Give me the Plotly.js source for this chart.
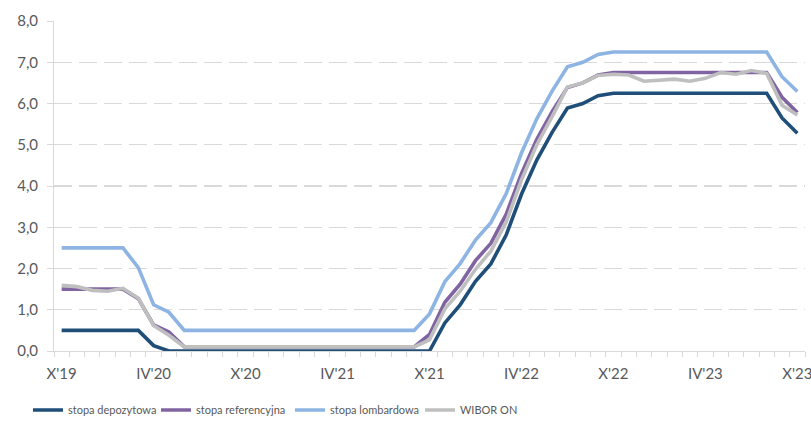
<!DOCTYPE html>
<html>
<head>
<meta charset="utf-8">
<script src="https://cdn.plot.ly/plotly-3.0.1.min.js"></script>
<style>
  html, body { margin: 0; padding: 0; background: #ffffff; }
  #chart { width: 811px; height: 421px; }
</style>
</head>
<body>
<div id="chart"></div>
<script>
// Monthly averages, October 2019 - October 2023 (%)
const months = [
  "X'19", "XI'19", "XII'19",
  "I'20", "II'20", "III'20", "IV'20", "V'20", "VI'20", "VII'20", "VIII'20", "IX'20", "X'20", "XI'20", "XII'20",
  "I'21", "II'21", "III'21", "IV'21", "V'21", "VI'21", "VII'21", "VIII'21", "IX'21", "X'21", "XI'21", "XII'21",
  "I'22", "II'22", "III'22", "IV'22", "V'22", "VI'22", "VII'22", "VIII'22", "IX'22", "X'22", "XI'22", "XII'22",
  "I'23", "II'23", "III'23", "IV'23", "V'23", "VI'23", "VII'23", "VIII'23", "IX'23", "X'23"
];

const tickLabels = ["X'19", "IV'20", "X'20", "IV'21", "X'21", "IV'22", "X'22", "IV'23", "X'23"];

const seriesNames = ['stopa depozytowa', 'stopa referencyjna', 'stopa lombardowa', 'WIBOR ON'];

const stopaDepozytowa = [
  0.50, 0.50, 0.50,
  0.50, 0.50, 0.50, 0.13, 0.00, 0.00, 0.00, 0.00, 0.00, 0.00, 0.00, 0.00,
  0.00, 0.00, 0.00, 0.00, 0.00, 0.00, 0.00, 0.00, 0.00, 0.00, 0.68, 1.12,
  1.69, 2.11, 2.81, 3.80, 4.63, 5.30, 5.89, 6.00, 6.19, 6.25, 6.25, 6.25,
  6.25, 6.25, 6.25, 6.25, 6.25, 6.25, 6.25, 6.25, 5.65, 5.28
];

const stopaReferencyjna = [
  1.50, 1.50, 1.50,
  1.50, 1.50, 1.27, 0.63, 0.46, 0.10, 0.10, 0.10, 0.10, 0.10, 0.10, 0.10,
  0.10, 0.10, 0.10, 0.10, 0.10, 0.10, 0.10, 0.10, 0.10, 0.40, 1.18, 1.62,
  2.19, 2.61, 3.31, 4.30, 5.13, 5.80, 6.39, 6.50, 6.69, 6.75, 6.75, 6.75,
  6.75, 6.75, 6.75, 6.75, 6.75, 6.75, 6.75, 6.75, 6.15, 5.78
];

const stopaLombardowa = [
  2.50, 2.50, 2.50,
  2.50, 2.50, 2.02, 1.12, 0.94, 0.50, 0.50, 0.50, 0.50, 0.50, 0.50, 0.50,
  0.50, 0.50, 0.50, 0.50, 0.50, 0.50, 0.50, 0.50, 0.50, 0.90, 1.68, 2.12,
  2.69, 3.11, 3.81, 4.80, 5.63, 6.30, 6.89, 7.00, 7.19, 7.25, 7.25, 7.25,
  7.25, 7.25, 7.25, 7.25, 7.25, 7.25, 7.25, 7.25, 6.65, 6.29
];

const wiborOn = [
  1.59, 1.56, 1.47,
  1.45, 1.52, 1.28, 0.62, 0.38, 0.10, 0.10, 0.10, 0.10, 0.10, 0.10, 0.10,
  0.10, 0.10, 0.10, 0.10, 0.10, 0.10, 0.10, 0.10, 0.10, 0.27, 1.02, 1.45,
  1.98, 2.42, 3.12, 4.15, 5.00, 5.68, 6.40, 6.50, 6.68, 6.71, 6.69, 6.54,
  6.57, 6.59, 6.54, 6.61, 6.75, 6.71, 6.80, 6.73, 5.96, 5.72
];

const FONT = "Lato, 'DejaVu Sans Condensed', sans-serif";
const TEXT = '#595959';
const GRID = '#d9d9d9';

// Legend layout: width reserved for each entry's label (px) and the
// largest font size at which every label still fits its slot.
const legendSlots = [83, 89, 85, 60];
const legendFontSize = (function () {
  const ctx = document.createElement('canvas').getContext('2d');
  ctx.font = '100px Lato';
  let size = 13;
  seriesNames.forEach((name, i) => {
    const w = ctx.measureText(name).width / 100;
    size = Math.min(size, (legendSlots[i] + 6) / w);
  });
  return Math.floor(size * 10) / 10;
})();

// evenly spaced month slots, like a category axis
const xPos = months.map((m, i) => i);
const tickPos = tickLabels.map(l => months.indexOf(l));

function series(i, values, color) {
  return {
    type: 'scatter',
    mode: 'lines',
    name: seriesNames[i],
    x: xPos,
    y: values,
    line: { color: color, width: 3.6, shape: 'linear' },
    legendwidth: legendSlots[i],
    hoverinfo: 'skip'
  };
}

const data = [
  series(0, stopaDepozytowa, '#1f4e79'),
  series(1, stopaReferencyjna, '#8064a2'),
  series(2, stopaLombardowa, '#8db4e2'),
  series(3, wiborOn, '#bfbfbf')
];

const layout = {
  width: 811,
  height: 421,
  margin: { l: 54, r: 6, t: 21, b: 70, autoexpand: false },
  paper_bgcolor: '#ffffff',
  plot_bgcolor: '#ffffff',
  separators: ', ',
  showlegend: true,
  font: { family: FONT, color: TEXT, size: 15 },
  xaxis: {
    range: [-0.5, months.length - 0.5],
    tickmode: 'array',
    tickvals: tickPos,
    ticktext: tickLabels,
    ticks: 'outside',
    ticklen: 0,
    tickcolor: 'rgba(0,0,0,0)',
    ticklabelstandoff: 9,
    ticklabeloverflow: 'allow',
    tickfont: { family: FONT, color: TEXT, size: 15 },
    showgrid: false,
    zeroline: false,
    showline: true,
    linecolor: GRID,
    linewidth: 1,
    automargin: false,
    minor: {
      tickmode: 'linear',
      tick0: -0.5,
      dtick: 1,
      ticks: 'outside',
      ticklen: 5,
      tickwidth: 1,
      tickcolor: GRID,
      showgrid: false
    },
    fixedrange: true
  },
  yaxis: {
    range: [0, 8],
    tickmode: 'linear',
    tick0: 0,
    dtick: 1,
    tickformat: '.1f',
    tickfont: { family: FONT, color: TEXT, size: 15 },
    ticks: 'outside',
    ticklen: 6,
    tickcolor: GRID,
    ticklabelstandoff: 6,
    showgrid: true,
    gridcolor: GRID,
    gridwidth: 1.3,
    griddash: '18px,7px',
    zeroline: false,
    showline: true,
    linecolor: GRID,
    linewidth: 1,
    automargin: false,
    fixedrange: true
  },
  legend: {
    orientation: 'h',
    xref: 'container',
    x: 0.0345,
    xanchor: 'left',
    yref: 'container',
    y: 0.026,
    yanchor: 'middle',
    font: { family: FONT, color: TEXT, size: legendFontSize },
    bgcolor: 'rgba(0,0,0,0)',
    itemwidth: 30,
    traceorder: 'normal'
  }
};

Plotly.newPlot('chart', data, layout, { displayModeBar: false, staticPlot: true });
</script>
</body>
</html>
